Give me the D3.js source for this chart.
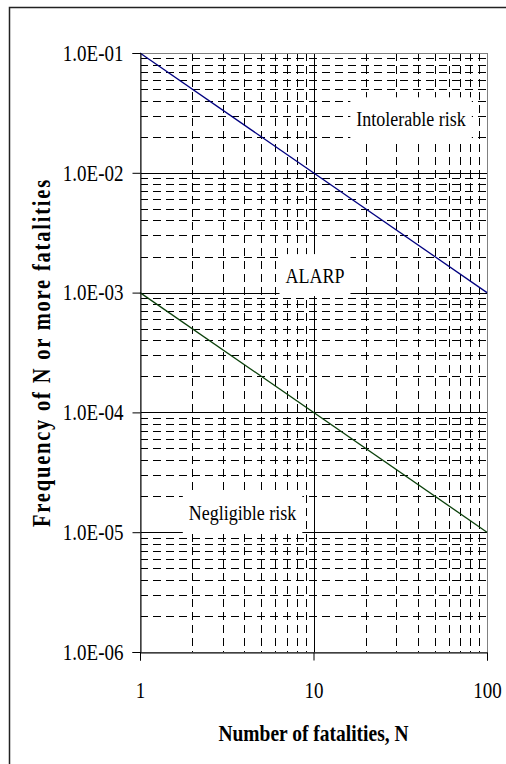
<!DOCTYPE html>
<html>
<head>
<meta charset="utf-8">
<script src="https://cdnjs.cloudflare.com/ajax/libs/d3/7.8.5/d3.min.js"></script>
<style>
  body { margin: 0; background: #fff; }
  text { font-family: "Liberation Serif", "Times New Roman", serif; }
</style>
</head>
<body>
<script>
// F-N criterion lines
var fatalities = [1, 100];
var intolerable = [1e-1, 1e-3];
var negligible = [1e-3, 1e-5];

var xTicks = [1, 10, 100];
var yTicks = [1e-6, 1e-5, 1e-4, 1e-3, 1e-2, 1e-1];

var regionLabels = [
  { text: "Intolerable risk", n: 36.5, f: 2.85e-2 },
  { text: "ALARP", n: 10.2, f: 1.4e-3 },
  { text: "Negligible risk", n: 3.9, f: 1.45e-5 }
];

var width = 506;
var height = 764;
var stretch = 1.2; // text in the picture is drawn taller than wide

var margin = { top: 53, right: 19, bottom: 112, left: 140 };

var svg = d3
  .select("body")
  .append("svg")
  .attr("width", width)
  .attr("height", height);

svg
  .append("rect")
  .attr("x", 9.5)
  .attr("y", 7.5)
  .attr("width", 520)
  .attr("height", 800)
  .attr("fill", "none")
  .attr("stroke", "#222")
  .attr("stroke-width", 1.5);

var x = d3
  .scaleLog()
  .domain([1, 100])
  .range([margin.left, width - margin.right]);

var y = d3
  .scaleLog()
  .domain([1e-6, 1e-1])
  .range([height - margin.bottom, margin.top]);

var g = svg.append("g");

// minor grid
var minorX = [];
var minorY = [];
[1, 10].forEach(function(d) {
  for (var k = 2; k <= 9; k++) minorX.push(d * k);
});
[1e-6, 1e-5, 1e-4, 1e-3, 1e-2].forEach(function(d) {
  for (var k = 2; k <= 9; k++) minorY.push(d * k);
});

g.selectAll(".minor-y")
  .data(minorY)
  .enter()
  .append("line")
  .attr("x1", x(1))
  .attr("x2", x(100))
  .attr("y1", function(d) { return Math.round(y(d)) + 0.5; })
  .attr("y2", function(d) { return Math.round(y(d)) + 0.5; })
  .attr("stroke", "#000")
  .attr("stroke-dasharray", "8,5");

g.selectAll(".minor-x")
  .data(minorX)
  .enter()
  .append("line")
  .attr("x1", function(d) { return Math.round(x(d)) + 0.5; })
  .attr("x2", function(d) { return Math.round(x(d)) + 0.5; })
  .attr("y1", y(1e-1))
  .attr("y2", y(1e-6))
  .attr("stroke", "#000")
  .attr("stroke-dasharray", "8,5");

// major grid
g.selectAll(".major-y")
  .data(yTicks.slice(1, -1))
  .enter()
  .append("line")
  .attr("x1", x(1))
  .attr("x2", x(100))
  .attr("y1", function(d) { return Math.round(y(d)) + 0.5; })
  .attr("y2", function(d) { return Math.round(y(d)) + 0.5; })
  .attr("stroke", "#000");

g.selectAll(".major-x")
  .data([10])
  .enter()
  .append("line")
  .attr("x1", function(d) { return Math.round(x(d)) + 0.5; })
  .attr("x2", function(d) { return Math.round(x(d)) + 0.5; })
  .attr("y1", y(1e-1))
  .attr("y2", y(1e-6))
  .attr("stroke", "#000");

// plot area border
svg
  .append("rect")
  .attr("x", x(1) + 0.5)
  .attr("y", y(1e-1) + 0.5)
  .attr("width", x(100) - x(1))
  .attr("height", y(1e-6) - y(1e-1))
  .attr("fill", "none")
  .attr("stroke", "#808080");

var line = d3
  .line()
  .x(function(d) { return x(d[0]); })
  .y(function(d) { return y(d[1]); });

svg
  .append("path")
  .datum(d3.zip(fatalities, intolerable))
  .attr("d", line)
  .attr("fill", "none")
  .attr("stroke", "#000080")
  .attr("stroke-width", 1.3);

svg
  .append("path")
  .datum(d3.zip(fatalities, negligible))
  .attr("d", line)
  .attr("fill", "none")
  .attr("stroke", "#0a400a")
  .attr("stroke-width", 1.3);

// labels on white boxes
var labels = svg
  .selectAll(".region")
  .data(regionLabels)
  .enter()
  .append("g")
  .attr("transform", function(d) {
    return "translate(" + x(d.n) + "," + y(d.f) + ")";
  });

labels
  .append("text")
  .attr("text-anchor", "middle")
  .attr("dy", "0.35em")
  .attr("font-size", 18)
  .attr("transform", "scale(1," + stretch + ")")
  .text(function(d) { return d.text; })
  .each(function() {
    var b = this.getBBox();
    d3.select(this.parentNode)
      .insert("rect", "text")
      .attr("x", b.x - 6)
      .attr("y", -21)
      .attr("width", b.width + 12)
      .attr("height", 42)
      .attr("fill", "#fff");
  });

// axes
var xAxis = d3
  .axisBottom(x)
  .tickValues(xTicks)
  .tickFormat(d3.format("d"))
  .tickSize(8)
  .tickPadding(16.5);

var yAxis = d3
  .axisLeft(y)
  .tickValues(yTicks)
  .tickFormat(function(d) {
    var e = Math.round(Math.log10(d));
    return "1.0E-" + String(-e).padStart(2, "0");
  })
  .tickSize(8)
  .tickPadding(9);

var gx = svg
  .append("g")
  .attr("transform", "translate(0," + (Math.round(y(1e-6)) + 0.5) + ")")
  .call(xAxis);

var gy = svg
  .append("g")
  .attr("transform", "translate(" + (Math.round(x(1)) + 0.5) + ",0)")
  .call(yAxis);

[gx, gy].forEach(function(a) {
  a.select(".domain").attr("stroke", "#000");
  a.selectAll(".tick line").attr("stroke", "#000");
  a.selectAll("text")
    .attr("font-family", "Liberation Serif, Times New Roman, serif")
    .attr("font-size", 19)
    .attr("fill", "#000")
    .attr("transform", "scale(1," + stretch + ")");
});

svg
  .append("text")
  .attr("transform", "translate(" + (x(1) + x(100)) / 2 + ",741) scale(1," + stretch + ")")
  .attr("text-anchor", "middle")
  .attr("font-weight", "bold")
  .attr("font-size", 19.5)
  .text("Number of fatalities, N");

svg
  .append("text")
  .attr("transform", "translate(50," + (y(1e-6) + y(1e-1)) / 2 + ") rotate(-90) scale(1," + stretch + ")")
  .attr("text-anchor", "middle")
  .attr("font-weight", "bold")
  .attr("font-size", 20.5)
  .attr("letter-spacing", 1.8)
  .text("Frequency of N or more fatalities");
</script>
</body>
</html>
